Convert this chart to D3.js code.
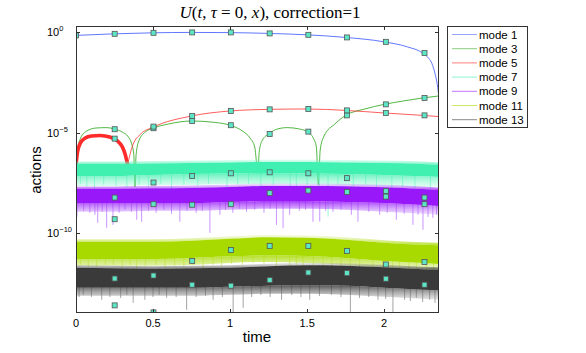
<!DOCTYPE html>
<html>
<head>
<meta charset="utf-8">
<script src="https://cdn.jsdelivr.net/npm/d3@7"></script>
<style>
  body { margin: 0; background: #fff; }
  svg { display: block; }
  text { font-family: "Liberation Sans", Arial, sans-serif; fill: #000; }
</style>
</head>
<body>
<div id="chart"></div>
<script>
// values are log10 of the action
const modeNames = ["mode 1", "mode 3", "mode 5", "mode 7", "mode 9", "mode 11", "mode 13"];
const modeColors = ["#4f67ff", "#3cae2c", "#ff2a2a", "#40f0b0", "#9818fa", "#a8da00", "#3a3a3a"];
const spikeColors = ["", "", "", "#8ff5d0", "#c488ff", "#d2ea78", "#9a9a9a"];

const xTicks = [0, 0.5, 1, 1.5, 2];
const yTicks = [0, -5, -10];

// smooth modes: [t, log10 action]
const mode1 = [[0, -0.15], [0.25, -0.07], [0.5, -0.02], [0.75, 0], [1.0, -0.01], [1.25, -0.05],
  [1.5, -0.12], [1.75, -0.25], [2.0, -0.47], [2.15, -0.72], [2.25, -1.03], [2.29, -1.3],
  [2.31, -1.55], [2.33, -2.05], [2.345, -2.6], [2.356, -3.25]];

const mode3 = [[0, -6.6], [0.01, -5.86], [0.03, -5.27], [0.07, -4.92], [0.13, -4.77], [0.2, -4.75],
  [0.25, -4.82], [0.3, -4.97], [0.34, -5.22], [0.36, -5.52], [0.375, -6.1], [0.383, -7.7],
  [0.39, -6.1], [0.41, -5.37], [0.45, -4.97], [0.5, -4.78], [0.6, -4.57], [0.75, -4.42],
  [0.9, -4.49], [1.0, -4.63], [1.08, -4.92], [1.13, -5.27], [1.16, -5.72], [1.18, -6.9],
  [1.19, -5.9], [1.21, -5.37], [1.25, -5.07], [1.3, -4.84], [1.37, -4.75], [1.45, -4.82],
  [1.5, -4.95], [1.54, -5.27], [1.56, -5.72], [1.573, -7.6], [1.585, -5.86], [1.61, -5.17],
  [1.68, -4.57], [1.75, -4.14], [1.875, -3.82], [2.0, -3.59], [2.125, -3.42], [2.25, -3.27],
  [2.356, -3.17]];

const mode5 = [[0, -6.6], [0.01, -5.96], [0.03, -5.5], [0.06, -5.27], [0.1, -5.17], [0.156, -5.14],
  [0.22, -5.22], [0.27, -5.42], [0.3, -5.7], [0.32, -6.1], [0.335, -6.6], [0.35, -6.1],
  [0.37, -5.6], [0.42, -5.07], [0.5, -4.73], [0.75, -4.17], [1.0, -3.92], [1.25, -3.84],
  [1.5, -3.82], [1.75, -3.89], [2.0, -4.02], [2.25, -4.14], [2.356, -4.2]];
const mode5FastEnd = 0.335; // fast oscillation (drawn thick) before this time

// noisy modes: envelope of the band at bandT
const bandT = [0, 0.25, 0.5, 0.75, 1.0, 1.25, 1.5, 1.75, 2.0, 2.25, 2.356];
const mode7Top    = [-6.56, -6.56, -6.54, -6.51, -6.49, -6.46, -6.46, -6.49, -6.51, -6.56, -6.61];
const mode7Core   = [-7.16, -7.16, -7.11, -7.06, -7.04, -7.01, -7.04, -7.06, -7.11, -7.18, -7.21];
const mode7Fringe = [-7.66, -7.66, -7.61, -7.61, -7.56, -7.56, -7.56, -7.61, -7.66, -7.71, -7.71];
const mode9Top    = [-7.81, -7.81, -7.78, -7.76, -7.71, -7.66, -7.66, -7.68, -7.73, -7.81, -7.86];
const mode9Core   = [-8.51, -8.51, -8.51, -8.51, -8.46, -8.41, -8.41, -8.46, -8.51, -8.61, -8.66];
const mode9Fringe = [-8.95, -8.95, -8.9, -8.9, -8.85, -8.8, -8.8, -8.85, -8.95, -9.05, -9.1];
const mode11Top    = [-10.45, -10.45, -10.45, -10.4, -10.3, -10.22, -10.25, -10.35, -10.5, -10.6, -10.62];
const mode11Core   = [-11.3, -11.3, -11.3, -11.25, -11.17, -11.12, -11.15, -11.25, -11.4, -11.5, -11.55];
const mode11Fringe = [-11.64, -11.64, -11.64, -11.6, -11.5, -11.45, -11.5, -11.6, -11.79, -11.94, -11.99];
const mode13Top    = [-11.74, -11.77, -11.79, -11.77, -11.74, -11.67, -11.62, -11.64, -11.72, -11.82, -11.84];
const mode13Core   = [-12.74, -12.74, -12.74, -12.74, -12.69, -12.64, -12.62, -12.64, -12.74, -12.84, -12.86];
const mode13Fringe = [-13.14, -13.14, -13.14, -13.14, -13.09, -13.04, -13.04, -13.09, -13.19, -13.29, -13.34];

// downward spikes out of the bands: [t, log10 action]
const mode7Spikes = [[0.03, -7.55], [0.07, -7.7], [0.12, -7.8], [0.18, -7.6], [0.26, -7.65],
  [0.33, -7.75], [0.41, -7.6], [0.47, -7.7], [0.55, -7.55], [0.62, -7.8], [0.7, -7.6],
  [0.79, -7.65], [0.86, -7.55], [0.98, -7.75], [1.05, -7.6], [1.12, -7.55], [1.2, -7.7],
  [1.28, -7.6], [1.39, -7.8], [1.43, -8.5], [1.5, -7.6], [1.58, -7.7], [1.636, -9.19],
  [1.7, -7.6], [1.8, -7.7], [1.88, -7.6], [1.95, -7.75], [2.05, -7.85], [2.12, -7.7],
  [2.2, -7.8], [2.3, -7.9]];
const mode9Spikes = [[0.003, -10.3], [0.006, -9.19], [0.05, -8.9], [0.09, -9.0], [0.123, -9.1],
  [0.141, -9.5], [0.17, -8.95], [0.199, -9.75], [0.24, -9.6], [0.28, -9.0], [0.318, -8.85],
  [0.36, -8.95], [0.394, -9.35], [0.426, -9.45], [0.47, -8.9], [0.52, -9.0], [0.57, -8.85],
  [0.62, -9.05], [0.674, -9.45], [0.72, -8.9], [0.78, -9.0], [0.82, -8.9], [0.869, -10.0],
  [0.934, -9.1], [0.97, -8.85], [1.018, -9.0], [1.06, -8.8], [1.107, -8.95], [1.16, -8.85],
  [1.22, -9.0], [1.26, -8.8], [1.301, -9.6], [1.344, -9.77], [1.387, -9.1], [1.45, -8.9],
  [1.49, -8.85], [1.538, -9.45], [1.582, -9.44], [1.62, -8.9], [1.668, -8.95], [1.72, -8.85],
  [1.787, -9.1], [1.83, -9.45], [1.9, -8.95], [1.971, -9.1], [2.02, -9.0], [2.079, -9.35],
  [2.13, -9.05], [2.187, -9.6], [2.22, -9.1], [2.252, -9.85], [2.285, -9.2], [2.316, -9.25],
  [2.34, -9.1]];
const mode11Spikes = [[0.03, -11.6], [0.08, -11.7], [0.134, -11.68], [0.19, -11.6], [0.242, -11.6],
  [0.3, -11.75], [0.35, -11.62], [0.394, -11.84], [0.45, -11.66], [0.52, -11.6],
  [0.577, -11.74], [0.64, -11.64], [0.7, -11.7], [0.76, -11.6], [0.825, -11.93],
  [0.89, -11.6], [0.945, -11.64], [1.01, -11.55], [1.08, -11.6], [1.15, -11.5],
  [1.22, -11.55], [1.301, -11.84], [1.387, -11.94], [1.43, -11.6], [1.474, -11.74],
  [1.54, -11.6], [1.603, -12.09], [1.66, -11.7], [1.72, -11.65], [1.78, -11.75],
  [1.841, -11.94], [1.927, -11.84], [1.99, -11.9], [2.057, -12.18], [2.1, -12.04],
  [2.16, -11.95], [2.209, -12.21], [2.274, -12.31], [2.32, -12.0]];
const mode13Spikes = [[0.02, -13.2], [0.047, -13.09], [0.1, -13.2], [0.167, -13.34],
  [0.22, -13.2], [0.29, -13.25], [0.33, -13.1], [0.371, -13.49], [0.447, -13.34],
  [0.5, -13.2], [0.54, -13.1], [0.588, -13.24], [0.65, -13.2], [0.718, -13.84],
  [0.78, -13.2], [0.84, -13.15], [0.89, -13.34], [0.95, -13.2], [1.02, -14], [1.085, -13.74],
  [1.14, -13.2], [1.2, -13.1], [1.26, -13.2], [1.334, -13.34], [1.4, -13.1], [1.46, -13.2],
  [1.517, -13.34], [1.58, -13.15], [1.658, -13.09], [1.72, -13.2], [1.781, -14],
  [1.84, -13.25], [1.9, -13.2], [1.96, -13.34], [2.01, -13.3], [2.057, -13.97],
  [2.133, -13.34], [2.17, -13.4], [2.209, -13.24], [2.25, -13.45], [2.295, -13.34],
  [2.33, -13.5]];

// square markers (null = not shown)
const markerT = [0, 0.251, 0.503, 0.754, 1.005, 1.257, 1.508, 1.759, 2.011, 2.262];
const mode1Marks  = [-0.15, -0.07, -0.02, 0, 0, -0.05, -0.12, -0.25, -0.47, -1.03];
const mode3Marks  = [null, -4.83, -4.78, -4.42, -4.63, -5.07, -4.95, -4.14, -3.59, -3.27];
const mode5Marks  = [null, -5.3, -4.7, -4.17, -3.92, -3.84, -3.82, -3.89, -4.02, -4.14];
const mode7Marks  = [null, -8.24, -7.49, -7.16, -7.03, -6.98, -7.03, -7.27, -7.92, -8.24];
const mode9Marks  = [null, -9.32, -8.57, -8.6, -8.57, -8.02, -7.89, -7.96, -8.19, -8.57];
const mode11Marks = [null, -12.28, -12.13, -11.4, -10.86, -10.65, -10.65, -10.9, -11.58, -11.46];
const mode13Marks = [null, -13.62, -13.97, -12.59, -12.64, -12.36, -11.98, -12.01, -12.29, -12.59];

const width = 586, height = 353;
const plot = { left: 76, right: 439, top: 26, bottom: 313 };

const svg = d3.select("#chart").append("svg")
    .attr("width", width)
    .attr("height", height);

const x = d3.scaleLinear().domain([0, 2.356]).range([plot.left, plot.right]);
const y = d3.scaleLog().domain([1e-14, Math.pow(10, 0.32)]).range([plot.bottom, plot.top]);
const yv = v => y(Math.pow(10, v));

const defs = svg.append("defs");
defs.append("clipPath").attr("id", "clip")
  .append("rect")
    .attr("x", plot.left).attr("y", plot.top)
    .attr("width", plot.right - plot.left).attr("height", plot.bottom - plot.top);

const g = svg.append("g").attr("clip-path", "url(#clip)");

const line = d3.line()
    .x(d => x(d[0]))
    .y(d => yv(d[1]))
    .curve(d3.curveMonotoneX);

// smooth modes
g.append("path").datum(mode1)
    .attr("d", line).attr("fill", "none")
    .attr("stroke", modeColors[0]).attr("stroke-width", 0.9);
g.append("path").datum(mode3)
    .attr("d", line).attr("fill", "none")
    .attr("stroke", modeColors[1]).attr("stroke-width", 0.9);
g.append("path").datum(mode5.filter(d => d[0] <= mode5FastEnd))
    .attr("d", line).attr("fill", "none")
    .attr("stroke", modeColors[2]).attr("stroke-width", 3.6);
g.append("path").datum(mode5.filter(d => d[0] >= mode5FastEnd))
    .attr("d", line).attr("fill", "none")
    .attr("stroke", modeColors[2]).attr("stroke-width", 0.9)
    .attr("stroke-opacity", 0.85);

// noisy modes as bands
const bands = [
  { i: 3, top: mode7Top, core: mode7Core, fringe: mode7Fringe, spikes: mode7Spikes },
  { i: 4, top: mode9Top, core: mode9Core, fringe: mode9Fringe, spikes: mode9Spikes },
  { i: 5, top: mode11Top, core: mode11Core, fringe: mode11Fringe, spikes: mode11Spikes },
  { i: 6, top: mode13Top, core: mode13Core, fringe: mode13Fringe, spikes: mode13Spikes }
];

bands.forEach(b => {
    const color = modeColors[b.i];
    const light = spikeColors[b.i];
    const down = defs.append("linearGradient").attr("id", "down" + b.i)
        .attr("x1", 0).attr("y1", 0).attr("x2", 0).attr("y2", 1);
    down.append("stop").attr("offset", 0).attr("stop-color", color).attr("stop-opacity", 0.85);
    down.append("stop").attr("offset", 1).attr("stop-color", light).attr("stop-opacity", 0.25);
    const up = defs.append("linearGradient").attr("id", "up" + b.i)
        .attr("x1", 0).attr("y1", 1).attr("x2", 0).attr("y2", 0);
    up.append("stop").attr("offset", 0).attr("stop-color", color).attr("stop-opacity", 0.8);
    up.append("stop").attr("offset", 1).attr("stop-color", light).attr("stop-opacity", 0.2);

    const rows = bandT.map((t, k) => ({ t, top: b.top[k], core: b.core[k], fringe: b.fringe[k] }));
    const topAt = d3.scaleLinear().domain(bandT).range(b.top);

    // spikes beneath the band
    g.append("g").selectAll("line")
        .data(b.spikes)
        .join("line")
        .attr("x1", d => x(d[0])).attr("x2", d => x(d[0]))
        .attr("y1", d => yv(topAt(d[0])))
        .attr("y2", d => yv(d[1]))
        .attr("stroke", light).attr("stroke-width", 0.9);

    // ragged fringe below and above
    g.append("path").datum(rows)
        .attr("d", d3.area().x(d => x(d.t)).y0(d => yv(d.fringe)).y1(d => yv(d.core)).curve(d3.curveMonotoneX))
        .attr("fill", "url(#down" + b.i + ")");
    g.append("path").datum(rows)
        .attr("d", d3.area().x(d => x(d.t)).y0(d => yv(d.top)).y1(d => yv(d.top) - 2.5).curve(d3.curveMonotoneX))
        .attr("fill", "url(#up" + b.i + ")");
    // solid core
    g.append("path").datum(rows)
        .attr("d", d3.area().x(d => x(d.t)).y0(d => yv(d.core)).y1(d => yv(d.top)).curve(d3.curveMonotoneX))
        .attr("fill", color);
});

// markers
const marks = [mode1Marks, mode3Marks, mode5Marks, mode7Marks, mode9Marks, mode11Marks, mode13Marks];
marks.forEach(m => {
    g.append("g").selectAll("rect")
        .data(markerT.map((t, k) => [t, m[k]]).filter(d => d[1] !== null))
        .join("rect")
        .attr("x", d => x(d[0]) - 2.5)
        .attr("y", d => yv(d[1]) - 2.5)
        .attr("width", 5).attr("height", 5)
        .attr("fill", "#5ce6c6")
        .attr("stroke", "#555").attr("stroke-width", 0.8);
});

// frame and ticks
svg.append("rect")
    .attr("x", plot.left + 0.5).attr("y", plot.top + 0.5)
    .attr("width", plot.right - plot.left - 1).attr("height", plot.bottom - plot.top - 1)
    .attr("fill", "none").attr("stroke", "#333").attr("stroke-width", 1);

const ticks = svg.append("g").attr("stroke", "#333").attr("stroke-width", 1);
xTicks.forEach(t => {
    const px = Math.round(x(t)) + 0.5;
    ticks.append("line").attr("x1", px).attr("x2", px).attr("y1", plot.bottom).attr("y2", plot.bottom - 4);
    ticks.append("line").attr("x1", px).attr("x2", px).attr("y1", plot.top).attr("y2", plot.top + 4);
});
yTicks.forEach(v => {
    const py = Math.round(yv(v)) + 0.5;
    ticks.append("line").attr("x1", plot.left).attr("x2", plot.left + 4).attr("y1", py).attr("y2", py);
    ticks.append("line").attr("x1", plot.right).attr("x2", plot.right - 4).attr("y1", py).attr("y2", py);
});

svg.append("g").selectAll("text")
    .data(xTicks)
    .join("text")
    .attr("x", d => x(d)).attr("y", 327)
    .attr("text-anchor", "middle")
    .attr("font-size", 11)
    .text(d => d);

const yl = svg.append("g").selectAll("text")
    .data(yTicks)
    .join("text")
    .attr("x", 47).attr("y", d => yv(d) + 4)
    .attr("font-size", 11);
yl.append("tspan").text("10");
yl.append("tspan").attr("dy", -5).attr("font-size", 7.5)
    .text(d => d === 0 ? "0" : "\u2212" + Math.abs(d));

svg.append("text")
    .attr("transform", "translate(41,170) rotate(-90)")
    .attr("text-anchor", "middle")
    .attr("font-size", 15)
    .text("actions");
svg.append("text")
    .attr("x", 257).attr("y", 342)
    .attr("text-anchor", "middle")
    .attr("font-size", 15)
    .text("time");

// title, LaTeX style
const title = svg.append("text")
    .attr("x", 270).attr("y", 18)
    .attr("text-anchor", "middle")
    .attr("font-size", 17)
    .style("font-family", "'Liberation Serif', 'DejaVu Serif', serif");
title.append("tspan").attr("font-style", "italic").text("U");
title.append("tspan").text("(");
title.append("tspan").attr("font-style", "italic").text("t");
title.append("tspan").text(", ");
title.append("tspan").attr("font-style", "italic").text("\u03c4");
title.append("tspan").text(" = 0, ");
title.append("tspan").attr("font-style", "italic").text("x");
title.append("tspan").text("), correction=1");

// legend
const legend = svg.append("g");
legend.append("rect")
    .attr("x", 447.5).attr("y", 26.5)
    .attr("width", 80).attr("height", 101)
    .attr("fill", "#fff").attr("stroke", "#333").attr("stroke-width", 1);
const items = legend.selectAll("g.item")
    .data(modeNames)
    .join("g")
    .attr("class", "item")
    .attr("transform", (d, k) => `translate(0,${34.5 + k * 14.2})`);
items.append("line")
    .attr("x1", 452).attr("x2", 477)
    .attr("stroke", (d, k) => modeColors[k])
    .attr("stroke-opacity", 0.6)
    .attr("stroke-width", 1);
items.append("text")
    .attr("x", 479).attr("y", 4)
    .attr("font-size", 11.5)
    .text(d => d);
</script>
</body>
</html>
